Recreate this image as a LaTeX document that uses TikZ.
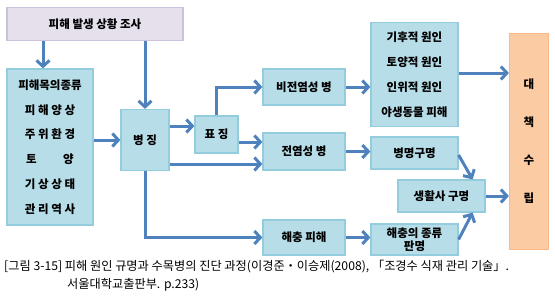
\documentclass[tikz,border=0pt]{standalone}
\usepackage{fontspec}
\setmainfont{Noto Sans CJK KR}
\usetikzlibrary{arrows.meta}
\definecolor{boxblue}{HTML}{B7DDE8}
\definecolor{lineblue}{HTML}{93CDDD}
\definecolor{flowblue}{HTML}{4F81BD}
\definecolor{boxlilac}{HTML}{E6E0EC}
\definecolor{linelilac}{HTML}{CCC1DA}
\definecolor{boxpeach}{HTML}{FBCBA4}
\definecolor{linepeach}{HTML}{F9B888}

\begin{document}
\begin{tikzpicture}[x=1pt,y=-1pt,
  bluebox/.style={draw=lineblue, fill=boxblue, line width=1.2pt, inner sep=0pt,
    align=center, font=\fontsize{11.5}{13}\selectfont\bfseries},
  flow/.style={draw=flowblue, line width=3pt,
    -{Straight Barb[length=6pt,width=13pt]}}]
	\useasboundingbox (0,0) rectangle (555,300);
	% Caja superior: investigación de la situación
	\node[bluebox, draw=linelilac, fill=boxlilac, minimum width=176pt, minimum height=33pt]
	(survey) at (95,24) {피해 발생 상황 조사};
	% Caja izquierda: factores
	\node[bluebox, minimum width=86pt, minimum height=156pt,
	font=\fontsize{11.5}{24.8}\selectfont\bfseries]
	(factors) at (50,147) {피해목의종류\\피 해 양 상\\주 위 환 경\\토\hspace{2.3em}양\\기 상 상 태\\관 리 역 사};
	% Síntoma y signo
	\node[bluebox, minimum width=48pt, minimum height=61pt] (symptom) at (145,140) {병 징};
	\node[bluebox, minimum width=43pt, minimum height=37pt] (sign) at (216.5,134.5) {표 징};
	% Enfermedades y plagas
	\node[bluebox, minimum width=82pt, minimum height=36pt] (noninf) at (304,87) {비전염성 병};
	\node[bluebox, minimum width=82pt, minimum height=37pt] (inf) at (304,151.5) {전염성 병};
	\node[bluebox, minimum width=82pt, minimum height=35pt] (pest) at (304,237.5) {해충 피해};
	% Causas y diagnósticos
	\node[bluebox, minimum width=87pt, minimum height=104pt,
	font=\fontsize{11.5}{25}\selectfont\bfseries]
	(causes) at (414.5,74.5) {기후적 원인\\토양적 원인\\인위적 원인\\야생동물 피해};
	\node[bluebox, minimum width=87pt, minimum height=32pt] (naming) at (414.5,153) {병명구명};
	\node[bluebox, minimum width=87pt, minimum height=32pt] (lifecycle) at (441.5,196) {생활사 구명};
	\node[bluebox, minimum width=87pt, minimum height=31pt,
	font=\fontsize{11.5}{13}\selectfont\bfseries]
	(pesttype) at (414.5,239.5) {해충의 종류\\판명};
	% Caja derecha: medidas
	\node[bluebox, draw=linepeach, fill=boxpeach, minimum width=39pt, minimum height=216pt,
	font=\fontsize{11.5}{38}\selectfont\bfseries]
	(measure) at (529,141.5) {대\\책\\수\\립};
	% Flechas
	\draw[flow] ([xshift=-7pt]factors.north |- survey.south) -- ([xshift=-7pt]factors.north);
	\draw[flow] (symptom.north |- survey.south) -- (symptom.north);
	\draw[flow] (factors.east |- symptom.west) -- (symptom.west);
	\draw[flow] ([yshift=14pt]symptom.east) -- ([yshift=14pt]symptom.east -| sign.west);
	\draw[flow] (sign.north) |- (noninf.west);
	\draw[flow] ([yshift=-7.5pt]sign.east) -- ([yshift=-7.5pt]sign.east -| inf.west);
	\draw[flow] ([yshift=-24pt]symptom.east) -- ([yshift=-24pt]symptom.east -| inf.west);
	\draw[flow] (symptom.south) |- (pest.west);
	\draw[flow] (noninf.east) -- (noninf.east -| causes.west);
	\draw[flow] ([yshift=1.5pt]causes.east) -- ([yshift=1.5pt]causes.east -| measure.west);
	\draw[flow] (inf.east) -- (inf.east -| naming.west);
	\draw[flow] (pest.east) -- (pest.east -| pesttype.west);
	\draw[flow] ([yshift=-2pt]naming.east) -- ([xshift=-13pt]lifecycle.north east);
	\draw[flow] (pesttype.east) -- ([xshift=-13pt]lifecycle.south east);
	\draw[flow] (lifecycle.east) -- (lifecycle.east -| measure.west);
	% Pie de figura
	\node[anchor=west, inner sep=0pt, font=\fontsize{12.2}{14}\selectfont]
	(caption) at (4,267) {[그림 3-15] 피해 원인 규명과 수목병의 진단 과정(이경준・이승제(2008), 「조경수 식재 관리 기술」.};
	\node[anchor=west, inner sep=0pt, font=\fontsize{12.2}{14}\selectfont]
	(source) at (67,285) {서울대학교출판부. p.233)};
\end{tikzpicture}
\end{document}
